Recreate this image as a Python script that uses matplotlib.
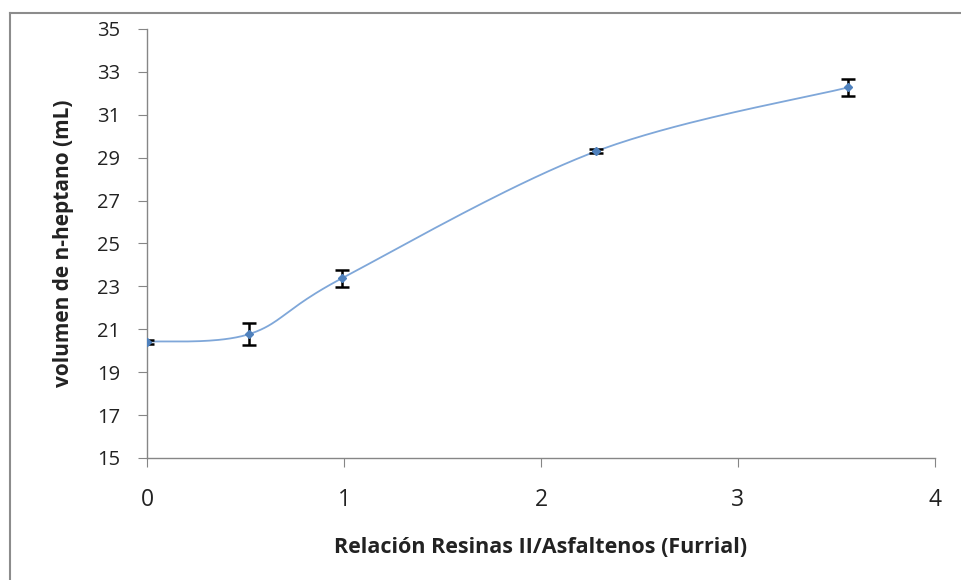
import numpy as np
import matplotlib
matplotlib.use("Agg")
import matplotlib.pyplot as plt
from matplotlib.lines import Line2D

plt.rcParams['font.family'] = ['Open Sans', 'DejaVu Sans']

# Data
ratio = [0.0, 0.52, 0.99, 2.28, 3.56]
volume = [20.42, 20.78, 23.38, 29.30, 32.28]
err = [0.10, 0.50, 0.40, 0.10, 0.40]
xticks = [0, 1, 2, 3, 4]
yticks = [15, 17, 19, 21, 23, 25, 27, 29, 31, 33, 35]

def catmull_rom(xs, ys, n=40, tension=0.5):
    xs = np.asarray(xs, float); ys = np.asarray(ys, float)
    px = np.concatenate([[xs[0]], xs, [xs[-1]]])
    py = np.concatenate([[ys[0]], ys, [ys[-1]]])
    outx, outy = [], []
    for i in range(1, len(px) - 2):
        p0 = np.array([px[i-1], py[i-1]]); p1 = np.array([px[i], py[i]])
        p2 = np.array([px[i+1], py[i+1]]); p3 = np.array([px[i+2], py[i+2]])
        c1 = p1 + (p2 - p0) * tension / 3
        c2 = p2 - (p3 - p1) * tension / 3
        t = np.linspace(0, 1, n)[:, None]
        pts = ((1-t)**3)*p1 + 3*((1-t)**2)*t*c1 + 3*(1-t)*t**2*c2 + t**3*p2
        outx.extend(pts[:, 0]); outy.extend(pts[:, 1])
    return np.array(outx), np.array(outy)

fig = plt.figure(figsize=(9.61, 5.80), dpi=100)
ax = fig.add_axes([147/961, 1-458/580, (935-147)/961, (458-29)/580])

sx, sy = catmull_rom(ratio, volume)
ax.plot(sx, sy, color='#7FA7D9', lw=1.3, zorder=2)
ax.errorbar(ratio, volume, yerr=err, fmt='none', ecolor='black', elinewidth=1.8,
            capsize=5, capthick=1.8, zorder=3)
ax.plot(ratio, volume, linestyle='none', marker='D', markersize=4.5,
        color='#4F81BD', zorder=4)

ax.set_xlim(0, 4)
ax.set_ylim(15, 35)
ax.set_xticks(xticks)
ax.set_yticks(yticks)
ax.tick_params(axis='both', direction='out', length=6.5, color='#868686',
               labelcolor='#222222')
ax.tick_params(axis='x', pad=15, labelsize=16.5)
ax.tick_params(axis='y', pad=13, labelsize=14.5)
for s in ['top', 'right']:
    ax.spines[s].set_visible(False)
for s in ['left', 'bottom']:
    ax.spines[s].set_color('#868686')
    ax.spines[s].set_linewidth(1.0)

ax.set_xlabel('Relación Resinas II/Asfaltenos (Furrial)', fontsize=15.5,
              fontweight='bold', color='#222222', labelpad=18)
ax.set_ylabel('volumen de n-heptano (mL)', fontsize=15, fontweight='bold',
              color='#222222', labelpad=16)

# outer chart border (only left and top visible in reference)
fig.add_artist(Line2D([9.5/961, 9.5/961], [0, 1-13/580], transform=fig.transFigure,
                      color='#8c8c8c', lw=1.5))
fig.add_artist(Line2D([9.5/961, 1], [1-13/580, 1-13/580], transform=fig.transFigure,
                      color='#8c8c8c', lw=1.5))

fig.savefig('out.png', dpi=100)
